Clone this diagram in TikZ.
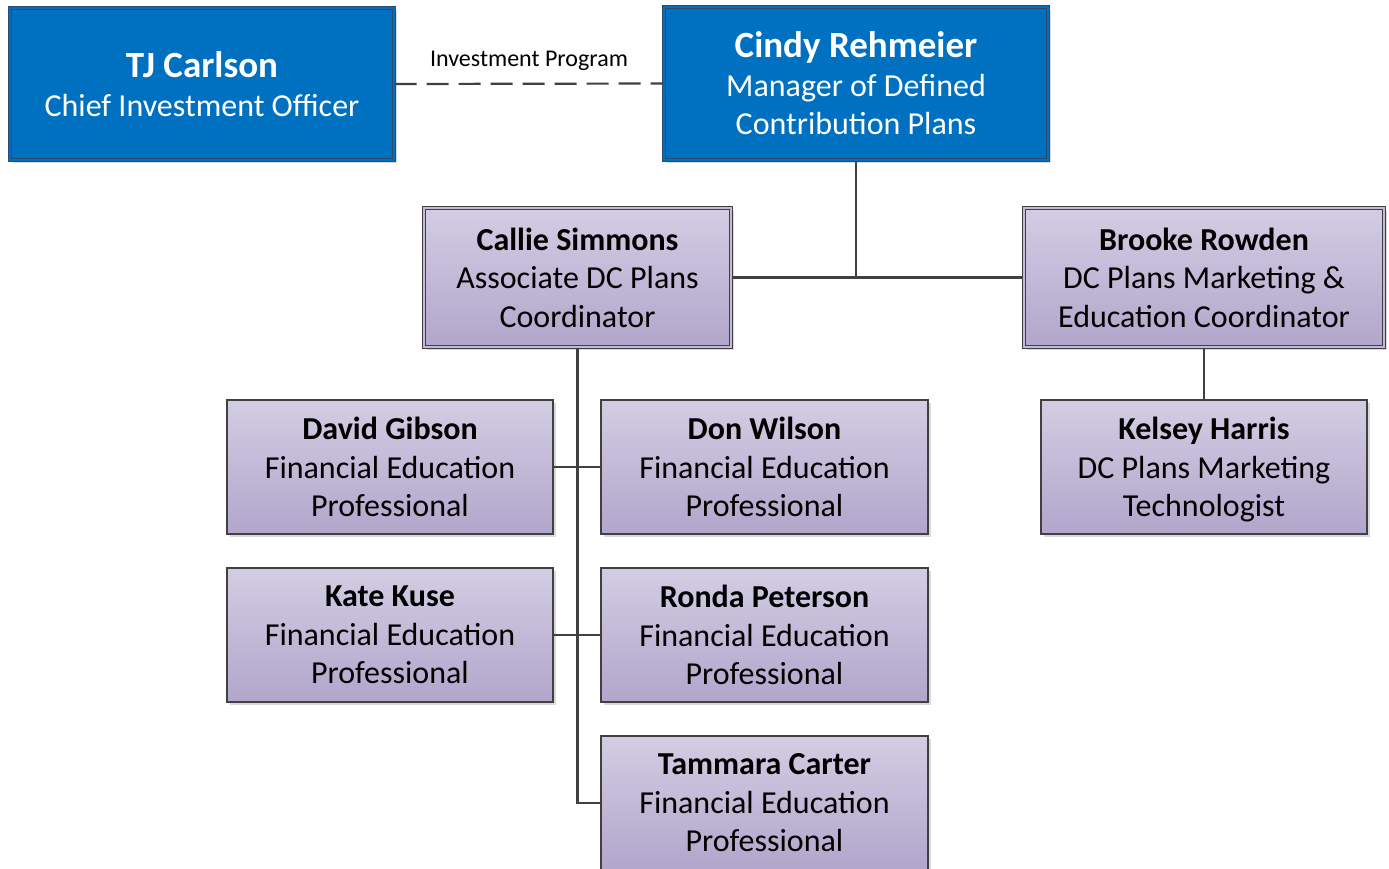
\documentclass[tikz,border=0pt]{standalone}
\usepackage{fontspec}
\setmainfont{Carlito}
\usetikzlibrary{shadows}
\definecolor{bluefill}{HTML}{0070C0}
\definecolor{blueline}{HTML}{2E4A6B}
\definecolor{ptop}{HTML}{D3CDE3}
\definecolor{pbot}{HTML}{B1A6CB}
\definecolor{pmid}{HTML}{C3BAD8}
\definecolor{edge}{HTML}{404040}
\definecolor{shade}{HTML}{D9D9D9}
\tikzset{
  shad/.style={drop shadow={shadow xshift=3pt, shadow yshift=-3pt, fill=shade, opacity=1}},
  bluebox/.style={rectangle, shad, fill=bluefill, draw=blueline, line width=1.1pt,
    double=bluefill, double distance=2.6pt, text=white, align=center,
    font=\fontsize{32}{38.5}\selectfont, inner sep=0pt},
  purpbox/.style={rectangle, shad, top color=ptop, bottom color=pbot, draw=edge, line width=1.1pt,
    text=black, align=center, font=\fontsize{32}{38.5}\selectfont, inner sep=0pt},
  purpdbl/.style={purpbox, double=pmid, double distance=2.6pt},
  conn/.style={draw=edge, line width=2.2pt},
  dashconn/.style={draw=edge, line width=2.2pt, dash pattern=on 22pt off 10pt},
  lbl/.style={font=\fontsize{24}{28}\selectfont, text=black, inner sep=0pt}
}
\newcommand{\bigname}[1]{{\fontsize{37}{38.5}\selectfont\bfseries #1}}
\newcommand{\pname}[1]{{\bfseries #1}}
\begin{document}
\begin{tikzpicture}[x=1pt,y=-1pt]
\useasboundingbox (0,0) rectangle (1389,869);
% boxes
\node[bluebox, minimum width=384, minimum height=152] (tj) at (202,84)
  {\bigname{TJ Carlson}\\Chief Investment Officer};
\node[bluebox, minimum width=384, minimum height=153] (cindy) at (856,83.5)
  {\bigname{Cindy Rehmeier}\\Manager of Defined\\Contribution Plans};
\node[purpdbl, minimum width=307, minimum height=139] (callie) at (577.5,277.5)
  {\pname{Callie Simmons}\\Associate DC Plans\\Coordinator};
\node[purpdbl, minimum width=360, minimum height=139] (brooke) at (1204,277.5)
  {\pname{Brooke Rowden}\\DC Plans Marketing \&\\Education Coordinator};
\node[purpbox, minimum width=326, minimum height=134] (david) at (390,467)
  {\pname{David Gibson}\\Financial Education\\Professional};
\node[purpbox, minimum width=327, minimum height=134] (don) at (764.5,467)
  {\pname{Don Wilson}\\Financial Education\\Professional};
\node[purpbox, minimum width=326, minimum height=134] (kelsey) at (1204,467)
  {\pname{Kelsey Harris}\\DC Plans Marketing\\Technolo\smash{g}ist};
\node[purpbox, minimum width=326, minimum height=134] (kate) at (390,635)
  {\pname{Kate Kuse}\\Financial Education\\Professional};
\node[purpbox, minimum width=327, minimum height=134] (ronda) at (764.5,635)
  {\pname{Ronda Peterson}\\Financial Education\\Professional};
\node[purpbox, minimum width=327, minimum height=134] (tammara) at (764.5,803)
  {\pname{Tammara Carter}\\Financial Education\\Professional};
% connectors
\draw[conn] (cindy.south) -- (cindy.south |- callie.east);
\draw[conn] (callie.east) -- (brooke.west);
\draw[conn] (callie.south) |- (tammara.west);
\draw[conn] (david.east) -- (don.west);
\draw[conn] (kate.east) -- (ronda.west);
\draw[conn] (brooke.south) -- (kelsey.north);
\draw[dashconn] (tj.east) -- (cindy.west)
  node[lbl, midway, above=12pt] (ip) {Investment Program};
\end{tikzpicture}
\end{document}
